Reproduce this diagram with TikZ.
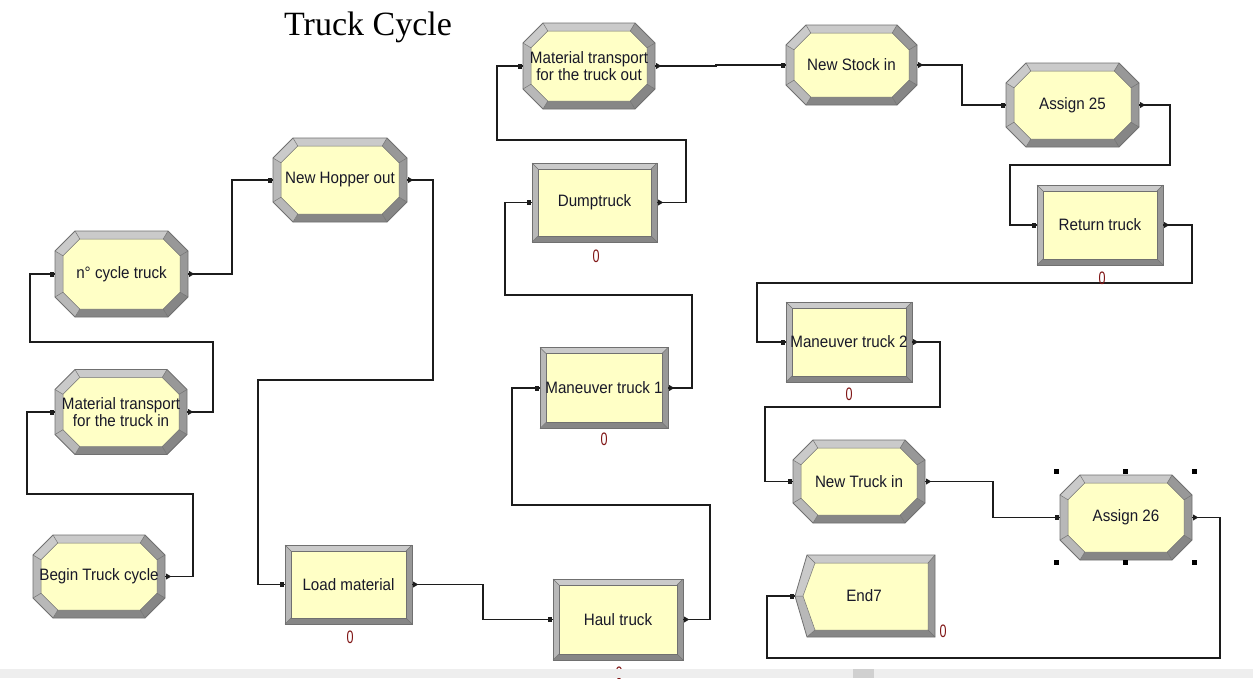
\documentclass[tikz,border=0pt]{standalone}
\usepackage{fontspec}
\setmainfont{Liberation Sans}
\newfontfamily\blockfont[FakeStretch=0.92]{Liberation Sans}
\newfontfamily\countfont[FakeStretch=0.7]{Liberation Sans}
\newfontfamily\titlefont{Liberation Serif}

\definecolor{blockyellow}{RGB}{255,255,198}
\definecolor{bevtop}{RGB}{202,202,202}
\definecolor{bevleft}{RGB}{184,184,184}
\definecolor{bevright}{RGB}{152,152,152}
\definecolor{bevbottom}{RGB}{134,134,134}
\definecolor{bevedge}{RGB}{112,112,112}
\definecolor{wire}{RGB}{28,28,28}
\definecolor{countred}{RGB}{128,22,22}
\definecolor{labelink}{RGB}{24,24,40}
\definecolor{bandgray}{RGB}{238,238,238}
\definecolor{banddark}{RGB}{208,208,208}

\def\octbev{8}
\def\octcham{20}
\def\rectbev{6}

\tikzset{
  blocklabel/.style={inner sep=0pt, align=center, text=labelink,
    font=\blockfont\fontsize{16.5}{15}\selectfont},
  counter/.style={inner sep=0pt, text=countred,
    font=\countfont\fontsize{18}{18}\selectfont},
  conn/.style={draw=wire, line width=1.2pt},
  mitre/.style={draw=bevedge, line width=0.5pt},
}

% bevelled octagon block (process/assign style module)
\newcommand\octblock[6]{% name, cx, cy, half width, half height, label
  \begin{scope}[shift={(#2,#3)}]
    \pgfmathsetmacro\oa{#4}\pgfmathsetmacro\ob{#5}
    \pgfmathsetmacro\ia{#4-\octbev}\pgfmathsetmacro\ib{#5-\octbev}
    \pgfmathsetmacro\ic{\octcham-0.4*\octbev}
    \coordinate (o1) at ({-\oa+\octcham},{-\ob});
    \coordinate (o2) at ({\oa-\octcham},{-\ob});
    \coordinate (o3) at ({\oa},{-\ob+\octcham});
    \coordinate (o4) at ({\oa},{\ob-\octcham});
    \coordinate (o5) at ({\oa-\octcham},{\ob});
    \coordinate (o6) at ({-\oa+\octcham},{\ob});
    \coordinate (o7) at ({-\oa},{\ob-\octcham});
    \coordinate (o8) at ({-\oa},{-\ob+\octcham});
    \coordinate (i1) at ({-\ia+\ic},{-\ib});
    \coordinate (i2) at ({\ia-\ic},{-\ib});
    \coordinate (i3) at ({\ia},{-\ib+\ic});
    \coordinate (i4) at ({\ia},{\ib-\ic});
    \coordinate (i5) at ({\ia-\ic},{\ib});
    \coordinate (i6) at ({-\ia+\ic},{\ib});
    \coordinate (i7) at ({-\ia},{\ib-\ic});
    \coordinate (i8) at ({-\ia},{-\ib+\ic});
    \fill[bevtop]    (o1)--(o2)--(i2)--(i1)--cycle;
    \fill[bevright]  (o2)--(o3)--(i3)--(i2)--cycle;
    \fill[bevright]  (o3)--(o4)--(i4)--(i3)--cycle;
    \fill[bevbottom] (o4)--(o5)--(i5)--(i4)--cycle;
    \fill[bevbottom] (o5)--(o6)--(i6)--(i5)--cycle;
    \fill[bevleft]   (o6)--(o7)--(i7)--(i6)--cycle;
    \fill[bevleft]   (o7)--(o8)--(i8)--(i7)--cycle;
    \fill[bevtop]    (o8)--(o1)--(i1)--(i8)--cycle;
    \fill[blockyellow] (i1)--(i2)--(i3)--(i4)--(i5)--(i6)--(i7)--(i8)--cycle;
    \draw[mitre] (o1)--(i1) (o2)--(i2) (o3)--(i3) (o4)--(i4)
                 (o5)--(i5) (o6)--(i6) (o7)--(i7) (o8)--(i8);
    \draw[mitre] (i1)--(i2)--(i3)--(i4)--(i5)--(i6)--(i7)--(i8)--cycle;
    \draw[draw=bevedge, line width=0.8pt]
      (o1)--(o2)--(o3)--(o4)--(o5)--(o6)--(o7)--(o8)--cycle;
  \end{scope}
  \node[blocklabel, minimum width={2*#4}, minimum height={2*#5}] (#1) at (#2,#3) {#6};
}

% bevelled rectangle block (seize-delay-release style module)
\newcommand\rectblock[6]{% name, cx, cy, half width, half height, label
  \begin{scope}[shift={(#2,#3)}]
    \pgfmathsetmacro\oa{#4}\pgfmathsetmacro\ob{#5}
    \pgfmathsetmacro\ia{#4-\rectbev}\pgfmathsetmacro\ib{#5-\rectbev}
    \coordinate (o1) at ({-\oa},{-\ob});
    \coordinate (o2) at ({\oa},{-\ob});
    \coordinate (o3) at ({\oa},{\ob});
    \coordinate (o4) at ({-\oa},{\ob});
    \coordinate (i1) at ({-\ia},{-\ib});
    \coordinate (i2) at ({\ia},{-\ib});
    \coordinate (i3) at ({\ia},{\ib});
    \coordinate (i4) at ({-\ia},{\ib});
    \fill[bevtop]    (o1)--(o2)--(i2)--(i1)--cycle;
    \fill[bevright]  (o2)--(o3)--(i3)--(i2)--cycle;
    \fill[bevbottom] (o3)--(o4)--(i4)--(i3)--cycle;
    \fill[bevleft]   (o4)--(o1)--(i1)--(i4)--cycle;
    \fill[blockyellow] (i1)--(i2)--(i3)--(i4)--cycle;
    \draw[mitre] (o1)--(i1) (o2)--(i2) (o3)--(i3) (o4)--(i4);
    \draw[mitre] (i1)--(i2)--(i3)--(i4)--cycle;
    \draw[draw=bevedge, line width=0.8pt] (o1)--(o2)--(o3)--(o4)--cycle;
  \end{scope}
  \node[blocklabel, minimum width={2*#4}, minimum height={2*#5}] (#1) at (#2,#3) {#6};
}

% entry and exit points of a module
\newcommand\inport[1]{\fill[wire, shift={(#1.west)}] (-5,-2.5) rectangle (-1,2.5);}
\newcommand\outport[1]{\fill[wire, shift={(#1.east)}] (1,-3) -- (6,0) -- (1,3) -- cycle;}

\begin{document}
\begin{tikzpicture}[x=1pt, y=-1pt]
\useasboundingbox (0,0) rectangle (1253,678);
\fill[white] (0,0) rectangle (1253,678);

\node[font=\titlefont\fontsize{34}{40}\selectfont, anchor=base, inner sep=0pt]
  (title) at (368,35) {Truck Cycle};

% ---- modules ----
\octblock{begin}{99}{576.5}{66}{41.5}{Begin Truck cycle}
\octblock{mtin}{121}{412}{66}{42.5}{Material transport\\for the truck in}
\octblock{ncycle}{121.5}{274}{66.5}{43}{n° cycle truck}
\octblock{hopper}{340}{180}{67}{42}{New Hopper out}
\rectblock{load}{348.5}{584.5}{63.5}{39.5}{Load material}
\rectblock{haul}{618}{619.5}{65}{40.5}{Haul truck}
\rectblock{man1}{604}{388}{64}{40.5}{Maneuver truck 1}
\rectblock{dump}{594.5}{202.5}{62.5}{39.5}{Dumptruck}
\octblock{mtout}{589}{66}{66}{43}{Material transport\\for the truck out}
\octblock{stock}{851.5}{65}{65.5}{40}{New Stock in}
\octblock{asg25}{1072.5}{105}{66.5}{42}{Assign 25}
\rectblock{ret}{1100}{225}{63}{40}{Return truck}
\rectblock{man2}{849}{342}{63}{40}{Maneuver truck 2}
\octblock{ntruck}{859}{481.5}{66}{41.5}{New Truck in}
\octblock{asg26}{1126}{517.5}{66}{42.5}{Assign 26}

% dispose module: chevron-fronted box
\coordinate (e1) at (807,555);
\coordinate (e2) at (935,555);
\coordinate (e3) at (935,637);
\coordinate (e4) at (807,637);
\coordinate (e5) at (795,596);
\coordinate (f1) at (815,563);
\coordinate (f2) at (928,563);
\coordinate (f3) at (928,630);
\coordinate (f4) at (815,630);
\coordinate (f5) at (803,596);
\fill[bevtop]    (e1)--(e2)--(f2)--(f1)--cycle;
\fill[bevright]  (e2)--(e3)--(f3)--(f2)--cycle;
\fill[bevbottom] (e3)--(e4)--(f4)--(f3)--cycle;
\fill[bevleft]   (e4)--(e5)--(f5)--(f4)--cycle;
\fill[bevtop]    (e5)--(e1)--(f1)--(f5)--cycle;
\fill[blockyellow] (f1)--(f2)--(f3)--(f4)--(f5)--cycle;
\draw[mitre] (e1)--(f1) (e2)--(f2) (e3)--(f3) (e4)--(f4) (e5)--(f5);
\draw[mitre] (f1)--(f2)--(f3)--(f4)--(f5)--cycle;
\draw[draw=bevedge, line width=0.8pt] (e1)--(e2)--(e3)--(e4)--(e5)--cycle;
\node[blocklabel, minimum width=140, minimum height=82] (end7) at (865,596) {};
\node[blocklabel] (end7label) at (864,596) {End7};

% ---- connectors ----
\draw[conn] (begin.east) -| (193,494) -| (27,0 |- mtin.west) -- (mtin.west);
\draw[conn] (mtin.east) -| (213,342) -| (30,0 |- ncycle.west) -- (ncycle.west);
\draw[conn] (ncycle.east) -| (232,0 |- hopper.west) -- (hopper.west);
\draw[conn] (hopper.east) -| (433,380) -| (258,0 |- load.west) -- (load.west);
\draw[conn] (load.east) -| (483,0 |- haul.west) -- (haul.west);
\draw[conn] (haul.east) -| (710,505) -| (512,0 |- man1.west) -- (man1.west);
\draw[conn] (man1.east) -| (692,295) -| (505,0 |- dump.west) -- (dump.west);
\draw[conn] (dump.east) -| (686,140) -| (497,0 |- mtout.west) -- (mtout.west);
\draw[conn] (mtout.east) -| (716,0 |- stock.west) -- (stock.west);
\draw[conn] (stock.east) -| (962,0 |- asg25.west) -- (asg25.west);
\draw[conn] (asg25.east) -| (1170,165) -| (1010,0 |- ret.west) -- (ret.west);
\draw[conn] (ret.east) -| (1192,283) -| (757,0 |- man2.west) -- (man2.west);
\draw[conn] (man2.east) -| (940,407) -| (765,0 |- ntruck.west) -- (ntruck.west);
\draw[conn] (ntruck.east) -| (993,0 |- asg26.west) -- (asg26.west);
\draw[conn] (asg26.east) -| (1220,658) -| (767,0 |- end7.west) -- (end7.west);

% ---- ports ----
\foreach \m in {mtin,ncycle,hopper,load,haul,man1,dump,mtout,stock,asg25,ret,man2,ntruck,asg26,end7}
  {\inport{\m}}
\foreach \m in {begin,mtin,ncycle,hopper,load,haul,man1,dump,mtout,stock,asg25,ret,man2,ntruck,asg26}
  {\outport{\m}}

% ---- selection handles ----
\foreach \hx/\hy in {1056/471,1125/471,1194/471,1056/562,1125/562,1194/562}
  {\fill[black] (\hx-2.5,\hy-2.5) rectangle (\hx+2.5,\hy+2.5);}

% ---- counters ----
\node[counter] (cload) at (350,637) {0};
\node[counter] (cdump) at (596,256) {0};
\node[counter] (cman1) at (604,439) {0};
\node[counter] (cret) at (1102,278) {0};
\node[counter] (cman2) at (849,394) {0};
\node[counter] (cend) at (943,631) {0};
\node[counter] (chaul) at (619,673) {0};

% ---- status strip along the bottom ----
\fill[bandgray] (0,669) rectangle (1253,678);
\fill[banddark] (853,669) rectangle (874,678);
\end{tikzpicture}
\end{document}
